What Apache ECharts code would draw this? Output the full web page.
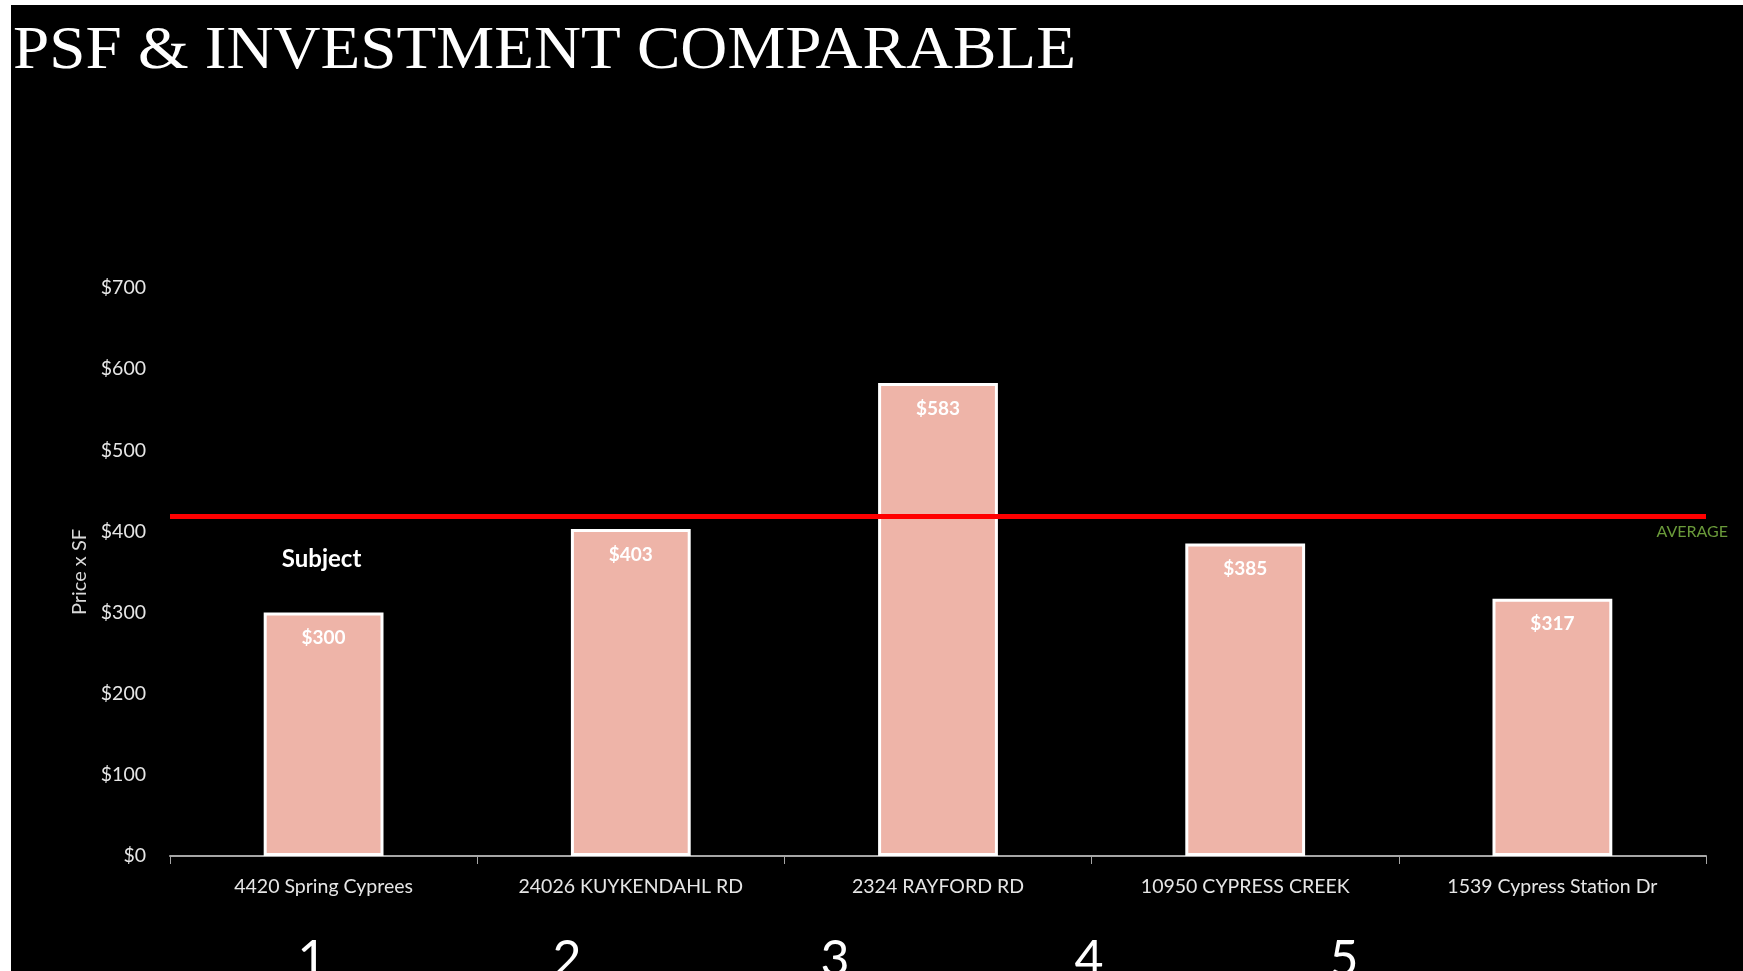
<!DOCTYPE html>
<html>
<head>
<meta charset="utf-8">
<script src="https://cdn.jsdelivr.net/npm/echarts@6/dist/echarts.min.js"></script>
<style>
  html, body { margin: 0; padding: 0; background: #ffffff; }
  #chart { position: absolute; left: 11px; top: 5px; width: 1732px; height: 966px; background: #000000; }
</style>
</head>
<body>
<div id="chart"></div>
<script>
const titleText = 'PSF & INVESTMENT COMPARABLE';
const categories = ['4420 Spring Cyprees', '24026 KUYKENDAHL RD', '2324 RAYFORD RD', '10950 CYPRESS CREEK', '1539 Cypress Station Dr'];
const pricePerSF = [300, 403, 583, 385, 317];
const averageLine = 419;
const averageLabel = 'AVERAGE';
const subjectLabel = 'Subject';
const yAxisName = 'Price x SF';
const footerNumbers = ['1', '2', '3', '4', '5'];

const chart = echarts.init(document.getElementById('chart'), null, { renderer: 'canvas' });

const footerX = [301, 556, 824, 1078, 1333];

const option = {
  backgroundColor: '#000000',
  animation: false,
  graphic: [
    {
      type: 'text', x: 2, y: 16, scaleX: 1.05,
      style: { text: titleText, fill: '#ffffff', font: '62px "Liberation Serif"' }
    }
  ].concat(footerNumbers.map((t, i) => ({
    type: 'text', x: footerX[i], y: 930,
    style: { text: t, fill: '#ffffff', font: '50px Lato', textAlign: 'center', textVerticalAlign: 'top' }
  }))),
  grid: { left: 159, right: 37, top: 283, bottom: 115, containLabel: false },
  xAxis: {
    type: 'category',
    data: categories,
    axisLine: { show: true, lineStyle: { color: '#a6a6a6', width: 2 } },
    axisTick: { show: true, length: 8, lineStyle: { color: '#a6a6a6', width: 1 } },
    axisLabel: { color: '#e6e6e6', fontFamily: 'Lato', fontSize: 19.5, margin: 21 }
  },
  yAxis: {
    type: 'value',
    min: 0, max: 700, interval: 100,
    name: yAxisName,
    nameLocation: 'middle',
    nameGap: 80,
    nameRotate: 90,
    nameTextStyle: { color: '#d9d9d9', fontFamily: 'Lato', fontSize: 20 },
    axisLine: { show: false },
    axisTick: { show: false },
    splitLine: { show: false },
    axisLabel: { color: '#e6e6e6', fontFamily: 'Lato', fontSize: 19.5, margin: 24, formatter: v => '$' + v }
  },
  series: [{
    type: 'bar',
    data: pricePerSF,
    barWidth: '39%',
    itemStyle: { color: '#eeb4a8', borderColor: '#ffffff', borderWidth: 3 },
    label: {
      show: true, position: 'insideTop', distance: 16,
      color: '#ffffff', fontFamily: 'Lato', fontWeight: 'bold', fontSize: 19,
      formatter: p => '$' + p.value
    },
    markPoint: {
      symbol: 'rect', symbolSize: 0,
      data: [{ coord: [categories[0], pricePerSF[0]], value: subjectLabel }],
      label: {
        show: true, position: 'inside', offset: [-2, -53],
        color: '#ffffff', fontFamily: 'Lato', fontWeight: 'bold', fontSize: 24,
        formatter: subjectLabel
      }
    },
    markLine: {
      symbol: ['none', 'none'],
      silent: true,
      lineStyle: { color: '#ff0000', width: 5, type: 'solid' },
      data: [{ yAxis: averageLine }],
      label: {
        show: true, position: 'insideEndBottom', formatter: averageLabel,
        color: '#6a9a3a', fontFamily: 'Lato', fontSize: 16, offset: [28, 2], distance: 6
      }
    }
  }]
};
chart.setOption(option);
</script>
</body>
</html>
